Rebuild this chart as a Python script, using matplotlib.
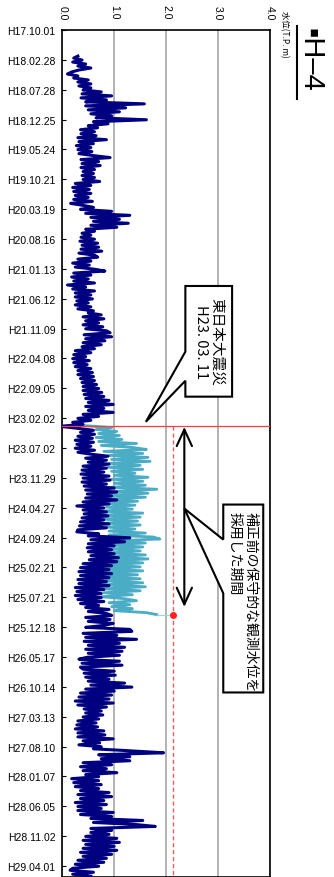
import matplotlib
matplotlib.use("Agg")
import matplotlib.pyplot as plt
import matplotlib.dates as mdates
from matplotlib.patches import Polygon
from matplotlib.lines import Line2D
import pandas as pd

plt.rcParams["font.family"] = ["Liberation Sans", "DejaVu Sans"]
CJK = ["Noto Sans CJK JP", "DejaVu Sans"]

# --- data --------------------------------------------------------------
tick_labels = ["H17.10.01", "H18.02.28", "H18.07.28", "H18.12.25", "H19.05.24",
               "H19.10.21", "H20.03.19", "H20.08.16", "H21.01.13", "H21.06.12",
               "H21.11.09", "H22.04.08", "H22.09.05", "H23.02.02", "H23.07.02",
               "H23.11.29", "H24.04.27", "H24.09.24", "H25.02.21", "H25.07.21",
               "H25.12.18", "H26.05.17", "H26.10.14", "H27.03.13", "H27.08.10",
               "H28.01.07", "H28.06.05", "H28.11.02", "H29.04.01"]
x_ticks = [0.0, 1.0, 2.0, 3.0, 4.0]

# observed water level (T.P. m), one value every 10 days
navy_start = "2006-02-09"
navy_level = [
    0.30, 0.22, 0.38, 0.20, 0.45, 0.30, 0.55, 0.32, 0.18, 0.10,
    0.30, 0.22, 0.50, 0.30, 0.55, 0.32, 0.55, 0.40, 0.75, 0.38,
    0.95, 0.36, 0.85, 0.45, 1.58, 0.45, 1.22, 0.50, 1.10, 0.55,
    0.95, 0.65, 1.62, 0.60, 0.88, 0.50, 0.68, 0.35, 0.62, 0.36,
    0.65, 0.30, 0.85, 0.32, 0.60, 0.27, 0.55, 0.30, 0.57, 0.32,
    0.60, 0.92, 0.36, 0.70, 0.38, 0.73, 0.36, 0.62,
    0.40, 0.60, 0.38, 0.62, 0.40, 0.72, 0.25, 0.55, 0.20, 0.52,
    0.22, 0.55, 0.25, 0.50, 0.22, 0.58, 0.16, 0.40, 0.60, 0.35,
    0.95, 0.45, 1.30, 0.55, 1.10, 0.60, 1.27, 0.55, 1.05, 0.45,
    0.62, 0.38, 0.55, 0.36, 0.62, 0.34, 0.68, 0.38, 0.70, 0.36,
    0.76, 0.32, 0.62, 0.68, 0.30, 0.55, 0.20, 0.52, 0.25, 0.60,
    0.82, 0.22, 0.55, 0.18, 0.50, 0.22, 0.62, 0.10, 0.45, 0.20,
    0.62, 0.25, 0.55, 0.25, 0.58, 0.28, 0.50, 0.25, 0.55, 0.30,
    0.60,
    0.50, 0.75, 0.40, 0.80, 0.45, 0.70, 0.40, 0.78, 0.45, 0.85,
    0.92, 0.42, 0.95, 0.45, 0.82, 0.40, 0.75, 0.38, 0.62, 0.25,
    0.55, 0.22, 0.45, 0.20, 0.52, 0.22, 0.48, 0.25, 0.55, 0.30,
    0.58, 0.30, 0.60, 0.35, 0.62, 0.38, 0.66, 0.40, 0.70, 0.40,
    0.76, 0.42, 0.80, 0.45, 0.90, 0.50, 0.98, 0.45, 0.80, 0.50,
    0.98, 0.40, 0.70, 0.30, 0.55, 0.20, 0.40, -0.05, 0.30, 0.60,
    0.35, 0.62, 0.30, 0.58, 0.25, 0.60, 0.28, 0.55, 0.25, 0.62,
    0.30,
    0.55, 0.88, 0.45, 0.85, 0.50, 0.90, 0.40, 0.85, 0.38, 0.80,
    0.36, 0.90, 0.40, 0.92, 0.38, 0.85, 0.42, 1.00, 0.45, 1.05,
    0.48, 0.95, 0.45, 1.05, 0.40, 0.90, 0.28, 0.80, 0.40, 0.85,
    0.42, 0.88, 0.38, 0.80, 0.35, 0.90, 0.33, 0.85, 0.30, 0.28,
    0.70, 0.50, 1.30, 0.55, 1.20, 0.50, 1.00, 0.48, 0.95, 0.50,
    1.00, 0.55, 1.08, 0.52, 1.05, 0.40, 0.95, 0.35, 0.90, 0.32,
    0.95, 0.35, 0.90, 0.30, 0.85, 0.32, 0.90, 0.25, 0.80, 0.28,
    0.75,
    0.25, 0.75, 0.30, 0.80, 0.35, 0.70, 0.45, 0.90, 0.50, 0.85,
    0.95, 0.45, 0.92, 0.50, 0.98, 0.80, 0.45, 1.30, 1.34, 0.40,
    1.05, 0.45, 1.43, 0.42, 1.10, 0.50, 1.20, 0.45, 1.15, 0.50,
    1.10, 0.48, 0.32, 1.10, 0.38, 1.15, 0.35, 0.40, 1.00, 0.42,
    1.02, 0.45, 0.90, 0.50, 1.20, 0.55, 1.34, 0.45, 1.00, 0.35,
    0.95, 0.32, 0.90, 0.25, 0.98, 0.30, 0.85, 0.42, 0.75, 0.45,
    0.78, 0.40, 0.70, 0.30, 0.65, 0.28, 0.68, 0.25, 0.80, 0.30,
    0.82,
    0.30, 0.98, 0.40, 0.72, 0.32, 0.75, 0.60, 1.30, 1.95, 0.70,
    1.30, 0.75, 1.30, 0.40, 0.95, 0.35, 0.85, 0.40, 1.05, 0.45,
    0.70, 0.18, 0.70, 0.22, 0.75, 0.25, 0.70, 0.35, 0.90, 0.30,
    0.95, 0.35, 0.80, 0.25, 0.85, 0.30, 0.75, 0.30, 0.98, 0.35,
    0.95, 0.55, 1.55, 0.60, 1.40, 1.79, 0.55, 0.95, 0.55, 0.90,
    0.45, 1.05, 0.40, 1.10, 0.45, 1.00, 0.40, 1.05, 0.35, 0.95,
    0.40, 0.85, 0.30, 0.80, 0.25, 0.70, 0.20, 0.15, 0.60, 0.20,
    0.55,
]

# level before correction (conservative), one value every 10 days
blue_start = "2011-03-11"
blue_level = [
    0.40, 0.95, 0.65, 1.05, 0.70, 1.10, 0.65, 1.15, 0.70, 1.43,
    0.75, 1.35, 1.62, 0.80,
    1.55, 0.90, 1.65, 0.95, 1.69, 0.90, 1.50, 0.88, 1.55, 0.95,
    1.40, 1.00, 1.65, 0.95, 1.55, 1.00, 1.60, 0.95, 1.82, 1.00,
    1.65, 0.90, 1.60, 0.85, 1.45, 0.80, 1.40, 0.85, 1.35, 0.75,
    1.55, 0.80, 1.50, 0.75, 1.45, 0.85, 1.50, 0.85, 1.40, 0.90,
    1.60, 0.90, 1.75, 1.88, 0.95, 1.60, 0.90, 1.55, 0.95, 1.50,
    0.90, 1.60, 0.90, 1.65, 0.95, 1.55, 0.85, 1.50, 0.75, 1.55,
    0.70, 1.45, 0.75, 1.50, 0.75, 1.55, 0.80, 1.60, 0.75, 1.50,
    0.80,
    1.35, 0.75, 1.20, 1.43, 0.90, 1.30, 0.95, 1.35, 1.00, 1.62,
    1.82,
]

quake_date = "2011-03-11"
cons_level = 2.13
period_top = "2011-03-18"
period_bottom = "2013-09-07"
period_x = 2.35

y_top = "2005-10-01"
y_bottom = "2017-05-26"


def heisei(s):
    return pd.Timestamp(f"{int(s[1:3]) + 1988}-{s[4:6]}-{s[7:9]}")


def dn(d):
    return mdates.date2num(pd.Timestamp(d))


tick_dates = [heisei(s) for s in tick_labels]
navy_dates = pd.date_range(navy_start, periods=len(navy_level), freq="10D")
blue_dates = pd.date_range(blue_start, periods=len(blue_level), freq="10D")

fig = plt.figure(figsize=(3.34, 8.78), dpi=100)
ax = fig.add_axes([62.3 / 334, 0, (270 - 62.3) / 334, (878 - 31) / 878])

ax.plot(blue_level, blue_dates, color="#4BACC6", lw=2.0, zorder=3)
ax.plot([blue_level[-1], cons_level], [blue_dates[-1], blue_dates[-1]],
        color="#9fd3e0", lw=0.8, zorder=3)
ax.plot(navy_level, navy_dates, color="#000080", lw=2.2, zorder=4)

ax.axhline(pd.Timestamp(quake_date), color="#ff3b3b", lw=0.9, zorder=5)
ax.vlines(cons_level, dn(quake_date), dn(y_bottom), colors="#ff5a5a",
          linestyles=(0, (3, 2)), lw=1.0, zorder=5)
ax.plot([cons_level], [blue_dates[-1]], "o", color="#ff2020", ms=4, zorder=6)

ax.annotate("", xy=(period_x, dn(period_bottom)), xytext=(period_x, dn(period_top)),
            arrowprops=dict(arrowstyle="<->,head_length=1.2,head_width=0.55",
                            color="black", lw=1.5, shrinkA=0, shrinkB=0,
                            mutation_scale=10), zorder=7)

ax.set_xlim(0, 4)
ax.set_ylim(pd.Timestamp(y_bottom), pd.Timestamp(y_top))
ax.set_yticks(tick_dates)
ax.set_yticklabels(tick_labels, fontsize=7.5)
ax.xaxis.tick_top()
ax.set_xticks(x_ticks)
ax.set_xticklabels([f"{v:.1f}" for v in x_ticks], rotation=-90, fontsize=7.5)
ax.tick_params(axis="x", length=0, pad=8)
ax.tick_params(axis="y", direction="in", length=3, pad=5)
ax.grid(axis="x", color="#a6a6a6", lw=1.2)
ax.set_axisbelow(True)
for s in ax.spines.values():
    s.set_linewidth(1.2)

# callout: earthquake
c1 = [(2.37, dn("2009-04-09")), (3.27, dn("2009-04-09")), (3.27, dn("2010-10-17")),
      (2.37, dn("2010-10-17")), (2.37, dn("2010-07-29")), (1.61, dn("2011-02-20")),
      (2.37, dn("2010-03-05"))]
ax.add_patch(Polygon(c1, closed=True, facecolor="white", edgecolor="black",
                     lw=1.5, zorder=8, clip_on=False))
ax.text(2.82, dn("2010-01-12"), "東日本大震災\nH23. 03. 11", rotation=-90,
        rotation_mode="anchor", ha="center", va="center", multialignment="center",
        fontsize=10.5, family=CJK, zorder=9, linespacing=1.1)

# callout: period
c2 = [(3.10, dn("2012-04-11")), (3.87, dn("2012-04-11")), (3.87, dn("2014-11-11")),
      (3.10, dn("2014-11-11")), (3.10, dn("2013-07-01")), (period_x, dn("2012-05-01")),
      (3.10, dn("2012-10-04"))]
ax.add_patch(Polygon(c2, closed=True, facecolor="white", edgecolor="black",
                     lw=1.5, zorder=8, clip_on=False))
ax.text(3.48, dn("2012-05-11"), "補正前の保守的な観測水位を\n採用した期間", rotation=-90,
        rotation_mode="anchor", ha="left", va="center", multialignment="left",
        fontsize=10, family=CJK, zorder=9, linespacing=1.2)

fig.text(284 / 334, 1 - 11 / 878, "水位(T.P. m)", rotation=-90, fontsize=6,
         family=CJK, ha="center", va="top")
fig.text(310 / 334, 1 - 28 / 878, "▪H–4", rotation=-90, fontsize=21,
         ha="center", va="top")
fig.add_artist(Line2D([297 / 334, 297 / 334], [1 - 27 / 878, 1 - 100 / 878],
                      color="black", lw=1.5))

fig.savefig("out.png", dpi=100)
